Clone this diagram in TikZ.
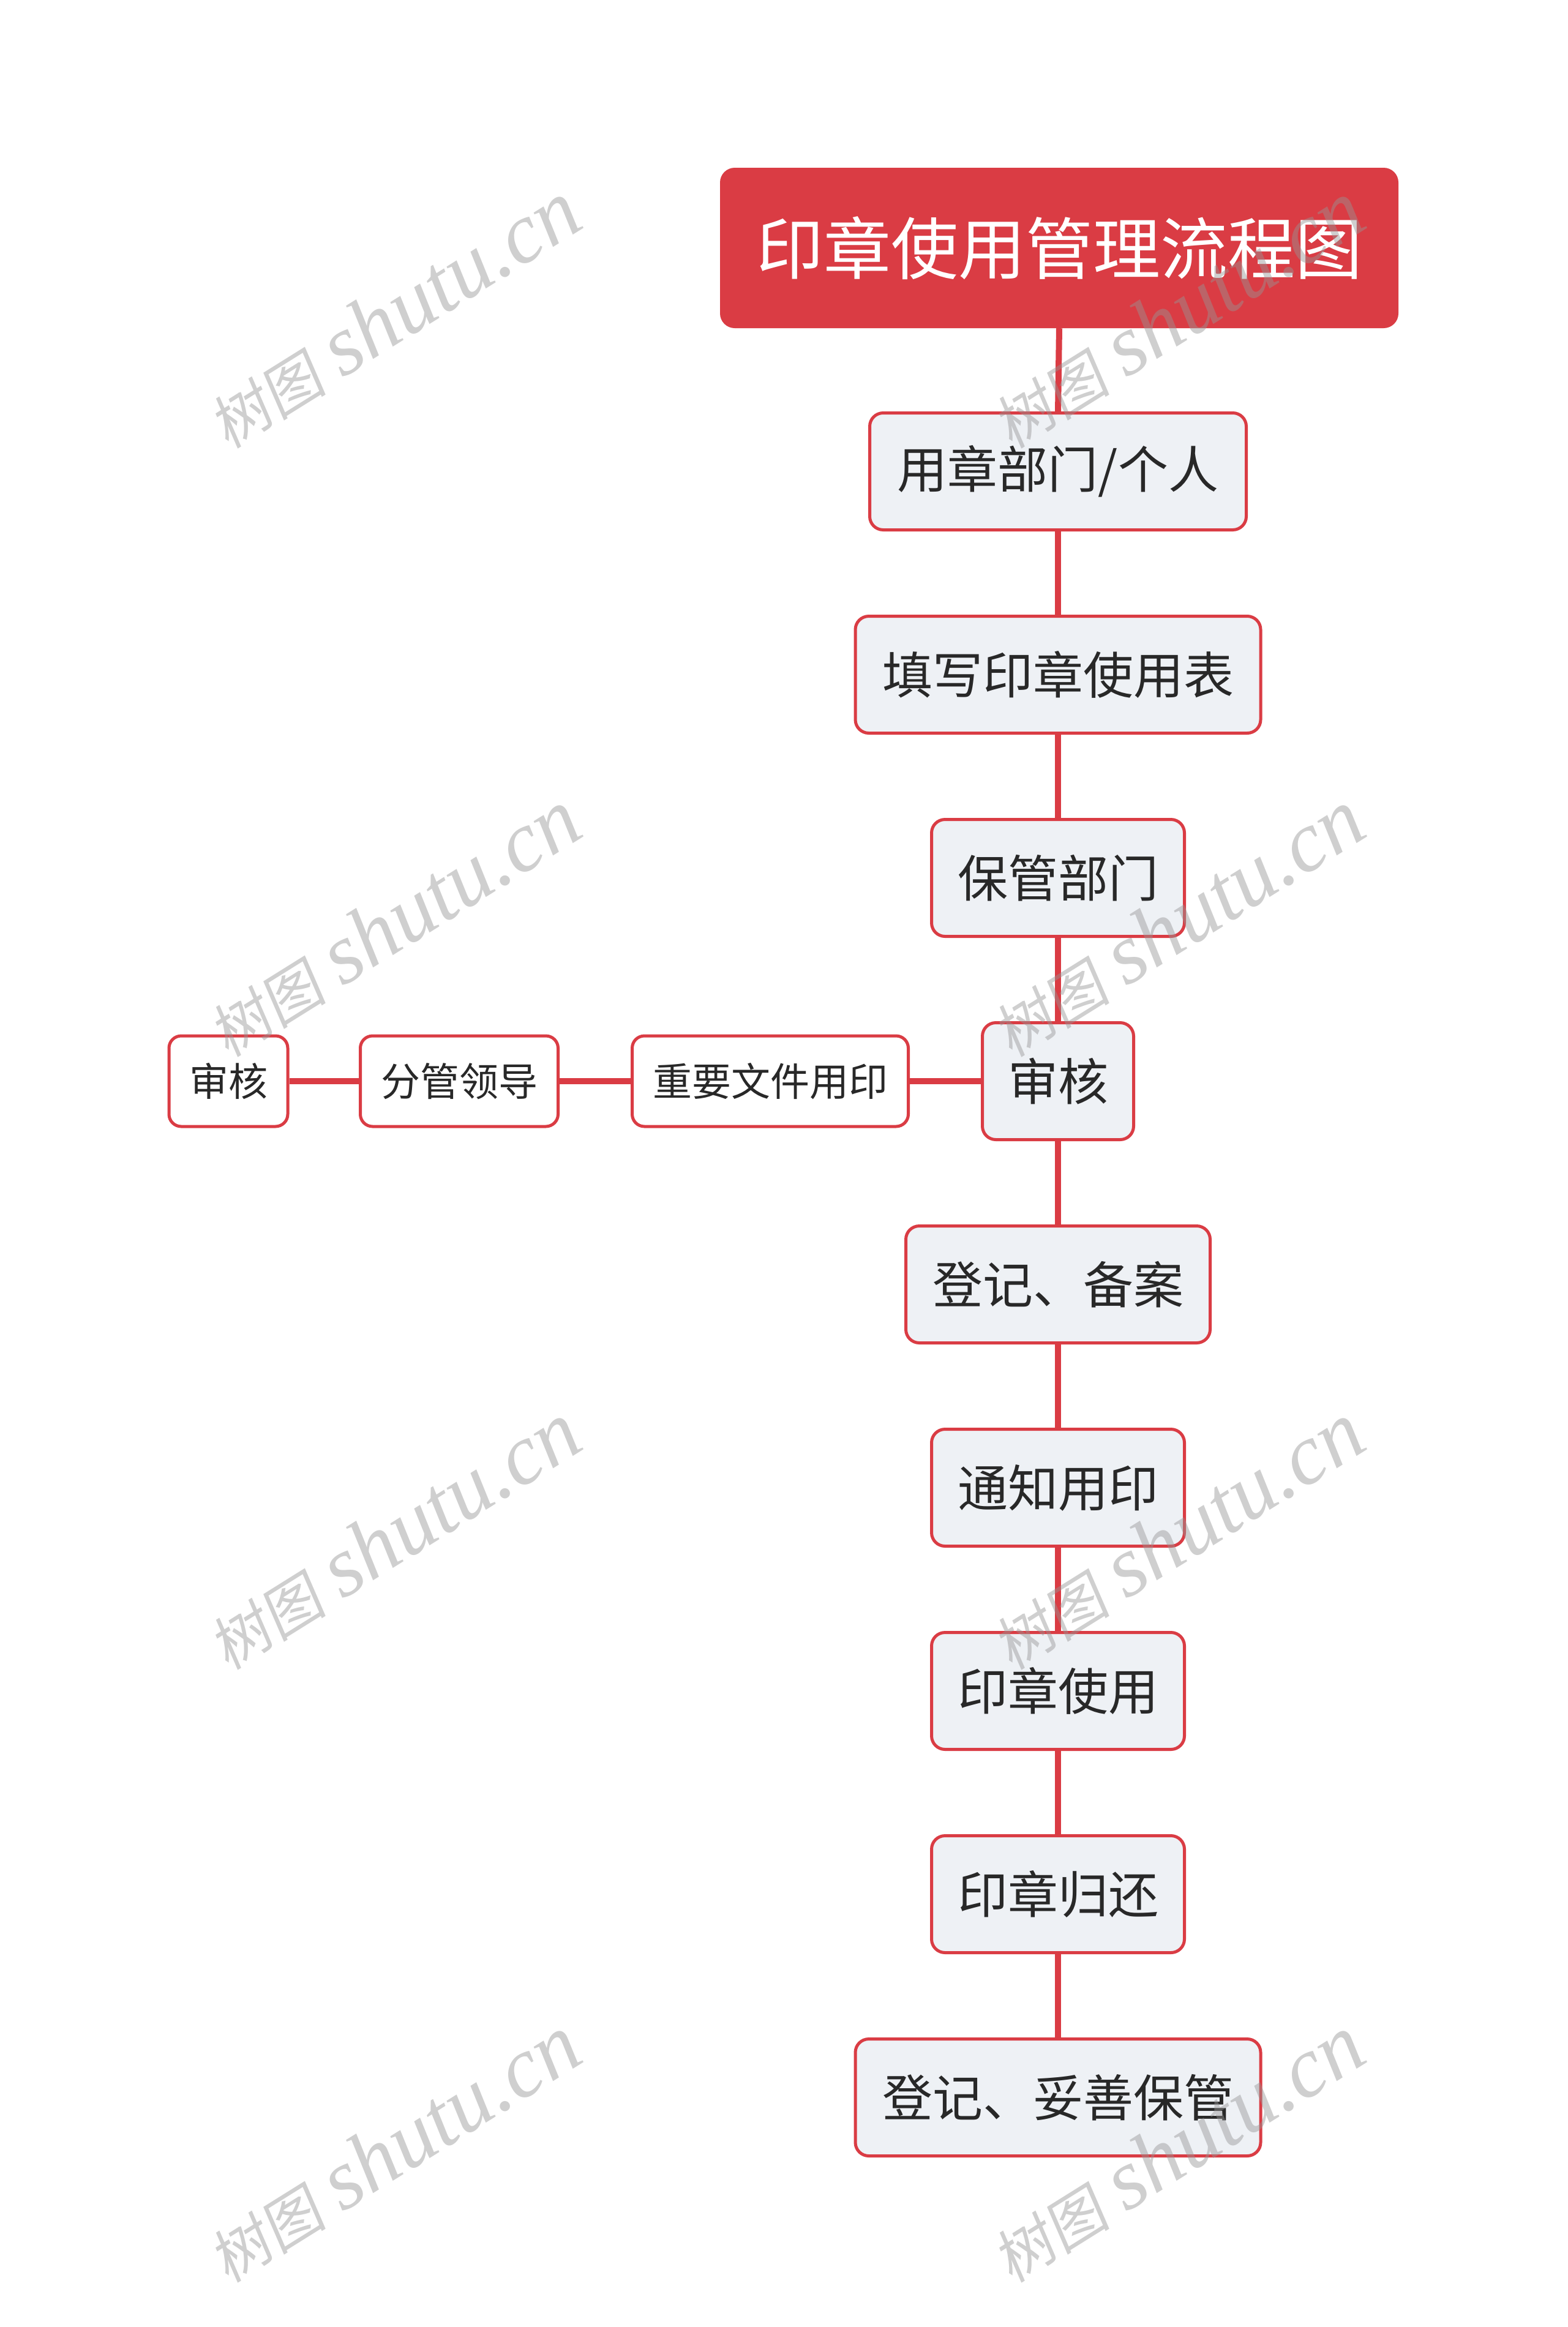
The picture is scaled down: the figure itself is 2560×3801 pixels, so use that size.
\documentclass[tikz,border=0pt]{standalone}
\usepackage{fontspec}
\setmainfont{Noto Sans CJK SC}
\newfontfamily\wmcjk{Noto Sans CJK SC}[FakeSlant=0.15]
\newfontfamily\wmlat{Liberation Serif}
\definecolor{mred}{RGB}{218,60,68}
\definecolor{mfill}{RGB}{238,241,245}
\definecolor{mtext}{RGB}{40,40,40}
\definecolor{wm}{RGB}{150,150,150}
\tikzset{
  mainbox/.style={draw=mred, line width=5pt, fill=mfill, rounded corners=22pt, inner sep=0pt, minimum height=191pt, text=mtext, font=\fontsize{82}{98}\selectfont},
  smallbox/.style={draw=mred, line width=5pt, fill=white, rounded corners=20pt, inner sep=0pt, minimum height=148pt, text=mtext, font=\fontsize{64}{76}\selectfont},
  titlebox/.style={fill=mred, rounded corners=24pt, inner sep=0pt, minimum width=1108pt, minimum height=262pt, text=white, font=\fontsize{110}{130}\selectfont},
  conn/.style={draw=mred, line width=10pt},
  wmark/.style={rotate=32, text=wm, opacity=0.45, inner sep=0pt}
}
\newcommand{\wmtext}{{\wmcjk\fontsize{96}{110}\selectfont 树图}\hspace{28pt}{\wmlat\itshape\fontsize{140}{160}\selectfont shutu.cn}}
\begin{document}
\begin{tikzpicture}[x=1pt,y=-1pt]
\useasboundingbox (0,0) rectangle (2560,3801);
\fill[white] (0,0) rectangle (2560,3801);
\node[titlebox] (t) at (1730,405) {印章使用管理流程图};
\node[mainbox, minimum width=615pt] (n1) at (1728,770) {用章部门/个人};
\node[mainbox, minimum width=662pt] (n2) at (1728,1102) {填写印章使用表};
\node[mainbox, minimum width=413pt] (n3) at (1728,1434) {保管部门};
\node[mainbox, minimum width=247pt] (n4) at (1728,1766) {审核};
\node[mainbox, minimum width=497pt] (n5) at (1728,2098) {登记、备案};
\node[mainbox, minimum width=413pt] (n6) at (1728,2430) {通知用印};
\node[mainbox, minimum width=413pt] (n7) at (1728,2762) {印章使用};
\node[mainbox, minimum width=413pt] (n8) at (1728,3094) {印章归还};
\node[mainbox, minimum width=662pt] (n9) at (1728,3426) {登记、妥善保管};
\node[smallbox, minimum width=451pt] (imp) at (1258,1766) {重要文件用印};
\node[smallbox, minimum width=323pt] (lead) at (750,1766) {分管领导};
\node[smallbox, minimum width=194pt] (sh) at (373,1766) {审核};
\draw[conn] (t.south) -- (n1.north);
\draw[conn] (n1.south) -- (n2.north);
\draw[conn] (n2.south) -- (n3.north);
\draw[conn] (n3.south) -- (n4.north);
\draw[conn] (n4.south) -- (n5.north);
\draw[conn] (n5.south) -- (n6.north);
\draw[conn] (n6.south) -- (n7.north);
\draw[conn] (n7.south) -- (n8.north);
\draw[conn] (n8.south) -- (n9.north);
\draw[conn] (n4.west) -- (imp.east);
\draw[conn] (imp.west) -- (lead.east);
\draw[conn] (lead.west) -- (sh.east);
\foreach \wy [count=\i] in {514,1508,2509,3510}{
  \node[wmark] (wl\i) at (642,\wy) {\wmtext};
  \node[wmark] (wr\i) at (1922,\wy) {\wmtext};
}
\end{tikzpicture}
\end{document}
